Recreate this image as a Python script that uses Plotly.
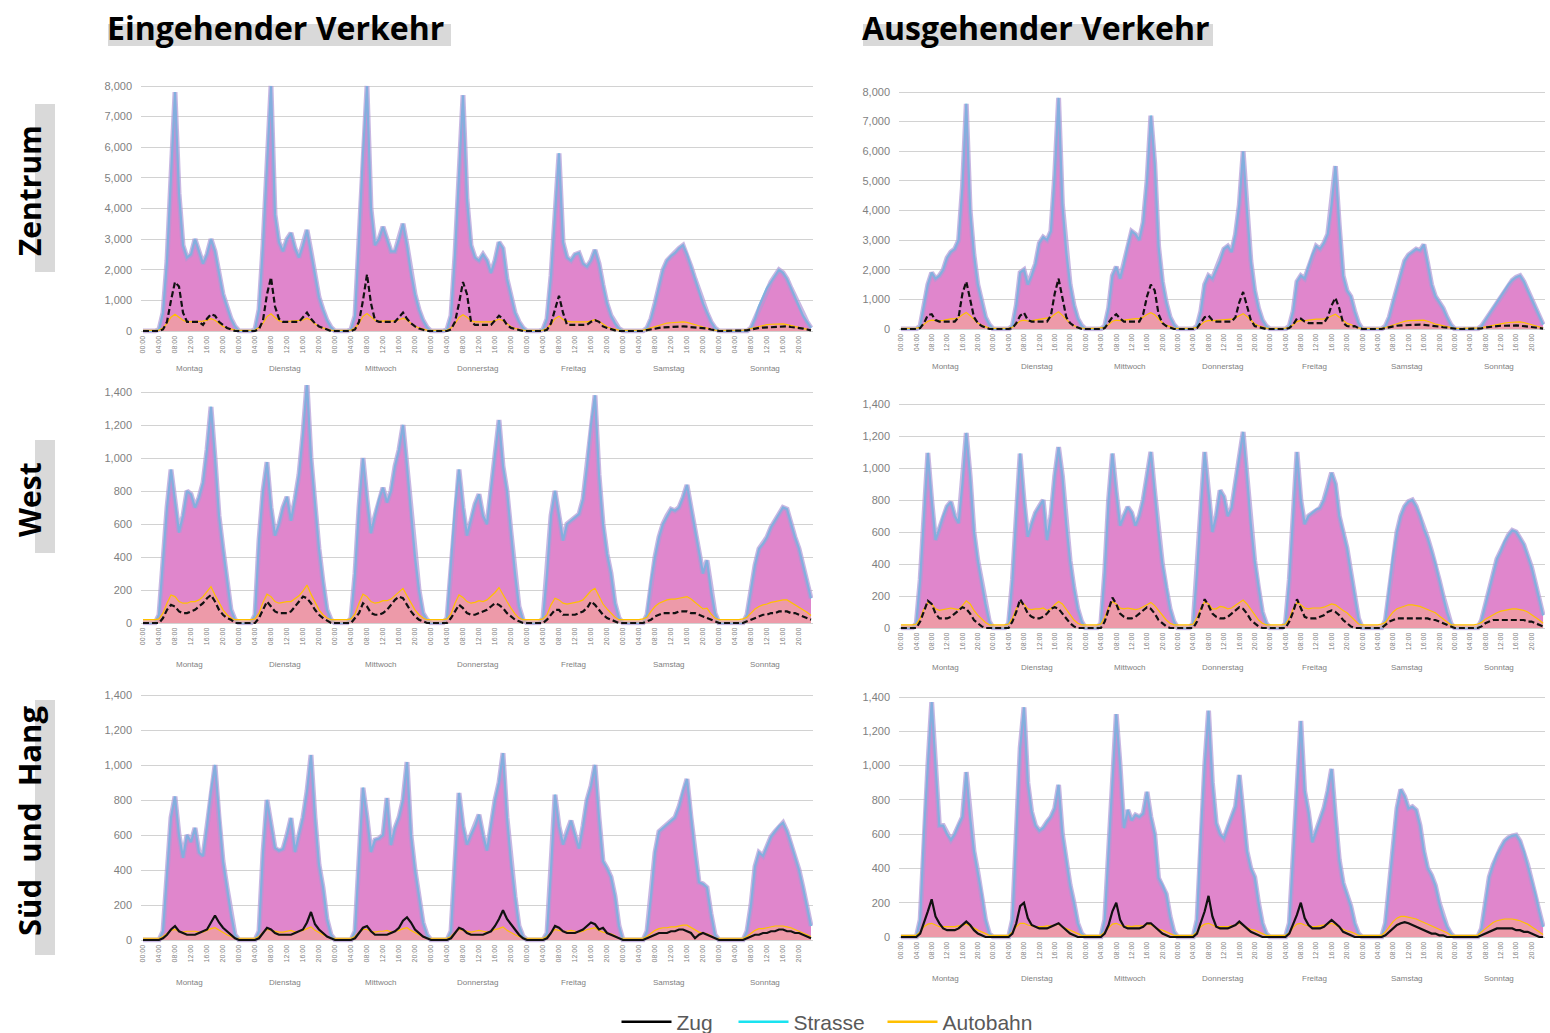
import plotly.graph_objects as go

W, H = 1550, 1033

DAYS = ["Montag", "Dienstag", "Mittwoch", "Donnerstag", "Freitag", "Samstag", "Sonntag"]
HOUR_LABELS = [f"{h:02d}:00" for h in range(24)]

# ---------------- Zentrum, eingehend ----------------
ZE_EIN_STRASSE = [
    0, 0, 0, 0, 50, 600, 2300, 5200, 7800, 4500, 2800, 2400, 2500, 3000, 2600, 2200, 2500, 3000, 2600, 1900, 1200, 800, 400, 150,
    0, 0, 0, 0, 50, 700, 2800, 5500, 8000, 3800, 2900, 2600, 3000, 3200, 2700, 2400, 2800, 3300, 2600, 1800, 1100, 700, 350, 120,
    0, 0, 0, 0, 50, 500, 3000, 5800, 8000, 4000, 2800, 3000, 3400, 3000, 2600, 2600, 3000, 3500, 2800, 1900, 1200, 700, 350, 120,
    0, 0, 0, 0, 50, 500, 2500, 5000, 7700, 4300, 2800, 2400, 2300, 2500, 2300, 1900, 2300, 2900, 2700, 1700, 1100, 600, 300, 100,
    0, 0, 0, 0, 50, 400, 1800, 3800, 5800, 2900, 2400, 2300, 2500, 2550, 2200, 2100, 2300, 2650, 2200, 1500, 900, 500, 250, 80,
    0, 0, 0, 0, 0, 0, 100, 400, 900, 1500, 2000, 2300, 2450, 2550, 2700, 2800, 2500, 2100, 1700, 1300, 900, 600, 300, 100,
    0, 0, 0, 0, 0, 0, 0, 0, 100, 400, 800, 1100, 1400, 1600, 1800, 2000, 1900, 1700, 1400, 1100, 800, 500, 300, 100,
]
ZE_EIN_ZUG = [
    0, 0, 0, 0, 0, 50, 300, 1000, 1600, 1450, 600, 300, 300, 300, 300, 200, 400, 550, 500, 300, 200, 100, 50, 0,
    0, 0, 0, 0, 0, 60, 350, 1200, 1750, 800, 400, 300, 300, 300, 300, 300, 450, 600, 400, 250, 150, 100, 50, 0,
    0, 0, 0, 0, 0, 50, 300, 1000, 1850, 900, 350, 300, 300, 300, 300, 300, 450, 600, 400, 250, 150, 80, 40, 0,
    0, 0, 0, 0, 0, 50, 300, 900, 1600, 1200, 300, 200, 200, 200, 200, 200, 350, 500, 400, 200, 100, 60, 30, 0,
    0, 0, 0, 0, 0, 40, 250, 700, 1150, 600, 200, 200, 200, 200, 200, 200, 300, 350, 300, 150, 100, 50, 20, 0,
    0, 0, 0, 0, 0, 0, 30, 60, 80, 100, 120, 130, 120, 130, 140, 150, 140, 130, 120, 110, 100, 80, 50, 20,
    0, 0, 0, 0, 0, 0, 0, 20, 50, 80, 100, 110, 120, 120, 130, 140, 140, 150, 130, 120, 100, 80, 50, 20,
]
ZE_EIN_AUTOBAHN = [
    20, 20, 20, 20, 30, 100, 250, 450, 550, 450, 350, 300, 300, 320, 320, 320, 350, 400, 350, 250, 150, 100, 60, 30,
    20, 20, 20, 20, 30, 110, 260, 470, 560, 440, 340, 300, 310, 330, 320, 330, 360, 420, 350, 240, 150, 100, 60, 30,
    20, 20, 20, 20, 30, 100, 260, 480, 570, 460, 350, 320, 330, 330, 320, 330, 360, 420, 360, 250, 160, 100, 60, 30,
    20, 20, 20, 20, 30, 100, 240, 440, 530, 450, 340, 300, 300, 310, 300, 300, 340, 390, 340, 230, 140, 90, 50, 30,
    20, 20, 20, 20, 30, 90, 220, 400, 480, 380, 320, 300, 300, 310, 300, 300, 330, 370, 320, 220, 140, 90, 50, 30,
    20, 20, 20, 20, 20, 30, 60, 100, 150, 200, 240, 260, 270, 280, 290, 300, 280, 250, 210, 170, 130, 90, 50, 30,
    20, 20, 20, 20, 20, 20, 30, 50, 80, 120, 160, 190, 210, 220, 230, 240, 230, 210, 180, 150, 110, 80, 50, 30,
]

# ---------------- Zentrum, ausgehend ----------------
ZE_AUS_STRASSE = [
    0, 0, 0, 0, 0, 100, 800, 1500, 1900, 1700, 1800, 2000, 2400, 2600, 2700, 3000, 4800, 7600, 4000, 2500, 1500, 900, 400, 150,
    0, 0, 0, 0, 0, 100, 800, 1900, 2000, 1500, 1800, 2200, 2900, 3100, 3000, 3300, 5200, 7800, 4200, 2600, 1500, 800, 350, 120,
    0, 0, 0, 0, 0, 100, 700, 1800, 2100, 1700, 2200, 2800, 3300, 3200, 3000, 3600, 5000, 7200, 5600, 2800, 1600, 900, 400, 150,
    0, 0, 0, 0, 0, 100, 600, 1500, 1800, 1700, 2000, 2300, 2700, 2800, 2600, 3200, 4200, 6000, 4000, 2300, 1300, 700, 300, 100,
    0, 0, 0, 0, 0, 100, 600, 1600, 1800, 1700, 2100, 2500, 2800, 2700, 2900, 3200, 4200, 5500, 3500, 1800, 1300, 1100, 600, 200,
    0, 0, 0, 0, 0, 0, 100, 400, 900, 1400, 1900, 2300, 2500, 2600, 2700, 2650, 2850, 2200, 1500, 1100, 900, 700, 400, 150,
    0, 0, 0, 0, 0, 0, 0, 100, 300, 500, 700, 900, 1100, 1300, 1500, 1650, 1750, 1800, 1600, 1300, 1000, 700, 400, 150,
]
ZE_AUS_ZUG = [
    0, 0, 0, 0, 0, 30, 200, 470, 500, 300, 250, 250, 250, 250, 250, 400, 1200, 1600, 1000, 400, 200, 100, 50, 0,
    0, 0, 0, 0, 0, 30, 200, 450, 550, 300, 250, 250, 250, 250, 250, 450, 1200, 1700, 1000, 400, 200, 100, 50, 0,
    0, 0, 0, 0, 0, 30, 200, 400, 500, 350, 250, 250, 250, 250, 250, 500, 1100, 1500, 1300, 500, 200, 100, 50, 0,
    0, 0, 0, 0, 0, 30, 200, 400, 450, 300, 250, 250, 250, 250, 250, 400, 900, 1250, 800, 300, 100, 60, 30, 0,
    0, 0, 0, 0, 0, 30, 150, 350, 350, 250, 200, 200, 200, 200, 200, 400, 800, 1050, 700, 200, 100, 80, 100, 30,
    0, 0, 0, 0, 0, 0, 30, 60, 90, 110, 120, 130, 140, 140, 150, 150, 140, 130, 120, 100, 80, 60, 40, 20,
    0, 0, 0, 0, 0, 0, 0, 20, 50, 70, 90, 100, 110, 110, 120, 120, 120, 110, 100, 90, 70, 50, 30, 10,
]
ZE_AUS_AUTOBAHN = [
    20, 20, 20, 20, 30, 60, 150, 260, 300, 280, 280, 290, 320, 340, 350, 380, 480, 560, 450, 320, 200, 130, 70, 30,
    20, 20, 20, 20, 30, 60, 150, 270, 300, 270, 280, 300, 330, 350, 350, 390, 500, 580, 460, 320, 200, 120, 60, 30,
    20, 20, 20, 20, 30, 60, 150, 260, 300, 280, 300, 320, 340, 350, 350, 400, 490, 550, 480, 330, 210, 130, 70, 30,
    20, 20, 20, 20, 30, 60, 140, 250, 290, 280, 290, 300, 320, 330, 330, 380, 450, 520, 420, 300, 180, 110, 60, 30,
    20, 20, 20, 20, 30, 60, 140, 250, 290, 280, 300, 310, 330, 330, 340, 380, 450, 500, 400, 280, 190, 150, 90, 40,
    20, 20, 20, 20, 20, 30, 50, 90, 140, 190, 230, 260, 280, 290, 300, 300, 300, 260, 210, 170, 140, 110, 70, 30,
    20, 20, 20, 20, 20, 20, 30, 40, 70, 100, 130, 160, 180, 200, 220, 230, 240, 240, 220, 190, 150, 110, 70, 30,
]

# ---------------- West, eingehend ----------------
WEST_EIN_STRASSE = [
    0, 0, 0, 0, 50, 400, 700, 930, 750, 550, 650, 800, 780, 700, 760, 850, 1050, 1310, 1000, 650, 450, 250, 80, 20,
    0, 0, 0, 0, 50, 500, 800, 975, 700, 530, 600, 700, 765, 620, 750, 900, 1150, 1455, 1000, 700, 450, 250, 80, 20,
    0, 0, 0, 0, 30, 300, 700, 1000, 750, 545, 650, 750, 820, 730, 800, 950, 1050, 1200, 950, 650, 400, 200, 60, 20,
    0, 0, 0, 0, 30, 350, 700, 930, 700, 530, 620, 720, 780, 650, 600, 800, 1000, 1230, 950, 800, 550, 300, 100, 20,
    0, 0, 0, 0, 30, 300, 650, 800, 650, 500, 600, 620, 640, 660, 750, 950, 1200, 1380, 900, 600, 420, 300, 120, 30,
    0, 0, 0, 0, 0, 0, 50, 250, 400, 520, 600, 650, 690, 680, 700, 760, 836, 700, 560, 420, 300, 380, 200, 60,
    0, 0, 0, 0, 0, 0, 0, 50, 200, 350, 450, 480, 520, 580, 620, 660, 700, 690, 600, 520, 450, 350, 250, 150,
]
WEST_EIN_ZUG = [
    0, 0, 0, 0, 0, 30, 80, 110, 100, 70, 60, 60, 70, 80, 100, 120, 150, 170, 130, 80, 50, 30, 20, 0,
    0, 0, 0, 0, 0, 30, 80, 130, 100, 70, 60, 60, 60, 70, 100, 130, 160, 150, 120, 80, 50, 30, 15, 0,
    0, 0, 0, 0, 0, 30, 60, 120, 100, 60, 50, 50, 60, 80, 110, 140, 160, 150, 110, 70, 40, 20, 10, 0,
    0, 0, 0, 0, 0, 30, 70, 110, 90, 60, 50, 50, 60, 70, 80, 100, 120, 110, 90, 60, 40, 20, 10, 0,
    0, 0, 0, 0, 0, 20, 50, 80, 80, 50, 50, 50, 50, 60, 70, 90, 130, 110, 80, 50, 30, 20, 10, 0,
    0, 0, 0, 0, 0, 0, 10, 20, 40, 50, 60, 60, 60, 60, 70, 70, 70, 60, 60, 50, 40, 30, 20, 10,
    0, 0, 0, 0, 0, 0, 0, 10, 20, 30, 40, 50, 50, 60, 60, 70, 70, 70, 60, 60, 50, 40, 30, 20,
]
WEST_EIN_AUTOBAHN = [
    20, 20, 20, 20, 25, 60, 120, 170, 160, 130, 120, 120, 130, 130, 140, 160, 190, 220, 170, 120, 80, 50, 30, 20,
    20, 20, 20, 20, 25, 60, 125, 175, 160, 130, 120, 125, 130, 130, 145, 165, 195, 230, 175, 125, 80, 50, 30, 20,
    20, 20, 20, 20, 25, 55, 120, 175, 160, 130, 120, 125, 135, 135, 145, 165, 190, 210, 165, 120, 80, 50, 30, 20,
    20, 20, 20, 20, 25, 55, 120, 170, 155, 130, 120, 125, 135, 130, 140, 160, 185, 215, 170, 130, 90, 55, 30, 20,
    20, 20, 20, 20, 25, 50, 110, 150, 140, 120, 115, 120, 125, 130, 140, 165, 195, 210, 160, 115, 85, 60, 35, 20,
    20, 20, 20, 20, 20, 25, 35, 70, 100, 120, 130, 140, 145, 145, 150, 155, 160, 145, 125, 105, 85, 90, 55, 30,
    20, 20, 20, 20, 20, 20, 25, 35, 60, 85, 100, 110, 115, 125, 130, 135, 140, 140, 125, 115, 100, 85, 65, 45,
]

# ---------------- West, ausgehend ----------------
WEST_AUS_STRASSE = [
    0, 0, 0, 0, 30, 300, 700, 1094, 800, 550, 620, 700, 760, 788, 700, 656, 900, 1219, 950, 600, 420, 280, 150, 40,
    0, 0, 0, 0, 30, 300, 700, 1090, 800, 570, 650, 720, 760, 800, 550, 700, 950, 1130, 950, 650, 420, 250, 120, 40,
    0, 0, 0, 0, 30, 350, 800, 1090, 850, 640, 700, 756, 720, 640, 700, 800, 950, 1100, 850, 600, 400, 250, 120, 40,
    0, 0, 0, 0, 30, 350, 750, 1100, 850, 600, 700, 860, 820, 700, 750, 900, 1050, 1225, 950, 650, 420, 250, 100, 30,
    0, 0, 0, 0, 30, 300, 700, 1100, 800, 650, 700, 720, 740, 750, 800, 880, 970, 900, 700, 600, 500, 350, 200, 60,
    0, 0, 0, 0, 0, 0, 50, 250, 450, 600, 700, 760, 790, 800, 760, 700, 620, 560, 480, 400, 300, 200, 100, 30,
    0, 0, 0, 0, 0, 0, 0, 50, 150, 250, 350, 430, 480, 540, 580, 610, 600, 560, 520, 450, 380, 280, 180, 80,
]
WEST_AUS_ZUG = [
    0, 0, 0, 0, 0, 40, 100, 170, 150, 90, 60, 60, 60, 70, 90, 110, 130, 120, 90, 50, 30, 10, 0, 0,
    0, 0, 0, 0, 0, 40, 100, 180, 140, 90, 70, 60, 60, 70, 90, 120, 130, 120, 90, 60, 30, 10, 0, 0,
    0, 0, 0, 0, 0, 40, 120, 190, 150, 90, 70, 60, 60, 70, 90, 110, 130, 120, 90, 50, 30, 10, 0, 0,
    0, 0, 0, 0, 0, 40, 110, 180, 140, 90, 70, 60, 60, 70, 90, 110, 130, 120, 90, 50, 30, 10, 0, 0,
    0, 0, 0, 0, 0, 40, 100, 180, 120, 70, 60, 60, 60, 70, 80, 100, 110, 100, 80, 50, 30, 10, 0, 0,
    0, 0, 0, 0, 0, 0, 20, 40, 50, 60, 60, 60, 60, 60, 60, 60, 60, 60, 50, 50, 40, 30, 20, 10,
    0, 0, 0, 0, 0, 0, 0, 10, 30, 40, 50, 50, 50, 50, 50, 50, 50, 50, 50, 40, 40, 30, 20, 10,
]
WEST_AUS_AUTOBAHN = [
    20, 20, 20, 20, 25, 60, 120, 160, 150, 120, 110, 115, 120, 125, 120, 115, 140, 170, 150, 110, 80, 55, 35, 20,
    20, 20, 20, 20, 25, 60, 120, 160, 150, 120, 115, 120, 120, 125, 110, 120, 145, 165, 150, 115, 80, 50, 30, 20,
    20, 20, 20, 20, 25, 65, 130, 165, 150, 125, 120, 125, 120, 115, 120, 130, 145, 160, 140, 110, 80, 50, 30, 20,
    20, 20, 20, 20, 25, 65, 125, 165, 150, 120, 120, 135, 130, 120, 125, 140, 155, 175, 150, 115, 80, 50, 30, 20,
    20, 20, 20, 20, 25, 60, 120, 160, 145, 125, 120, 125, 125, 125, 130, 140, 150, 145, 125, 110, 95, 70, 45, 25,
    20, 20, 20, 20, 20, 25, 35, 70, 100, 120, 130, 140, 145, 145, 140, 135, 125, 115, 105, 95, 75, 55, 35, 20,
    20, 20, 20, 20, 20, 20, 25, 35, 55, 70, 85, 95, 105, 110, 115, 120, 120, 115, 110, 100, 85, 70, 50, 30,
]

# ---------------- Süd und Hang, eingehend ----------------
SUED_EIN_STRASSE = [
    0, 0, 0, 0, 0, 50, 400, 700, 820, 600, 470, 600, 560, 640, 500, 480, 650, 850, 1000, 700, 450, 300, 150, 30,
    0, 0, 0, 0, 0, 50, 500, 800, 650, 526, 510, 520, 600, 697, 503, 600, 700, 850, 1057, 700, 430, 300, 120, 30,
    0, 0, 0, 0, 0, 50, 450, 870, 700, 503, 572, 580, 600, 811, 543, 640, 700, 800, 1017, 600, 400, 250, 100, 30,
    0, 0, 0, 0, 0, 50, 450, 840, 650, 545, 600, 650, 716, 600, 511, 650, 800, 900, 1068, 700, 450, 250, 80, 20,
    0, 0, 0, 0, 0, 40, 400, 830, 650, 545, 620, 682, 600, 523, 650, 800, 880, 1000, 700, 450, 410, 360, 250, 80,
    0, 0, 0, 0, 0, 0, 50, 250, 500, 620, 640, 660, 680, 700, 760, 850, 920, 700, 500, 330, 320, 300, 150, 30,
    0, 0, 0, 0, 0, 0, 0, 50, 200, 420, 500, 480, 540, 590, 620, 650, 670, 620, 550, 480, 400, 300, 180, 80,
]
SUED_EIN_ZUG = [
    0, 0, 0, 0, 0, 10, 30, 60, 80, 50, 40, 30, 30, 30, 40, 50, 60, 100, 140, 100, 70, 50, 30, 10,
    0, 0, 0, 0, 0, 10, 40, 70, 60, 40, 30, 30, 30, 30, 40, 50, 60, 100, 160, 90, 60, 40, 20, 10,
    0, 0, 0, 0, 0, 10, 40, 70, 80, 50, 30, 30, 30, 30, 40, 50, 70, 110, 130, 100, 60, 40, 20, 10,
    0, 0, 0, 0, 0, 10, 40, 70, 60, 40, 30, 30, 30, 30, 40, 50, 80, 120, 170, 120, 90, 60, 30, 10,
    0, 0, 0, 0, 0, 10, 40, 80, 70, 50, 40, 40, 40, 50, 60, 80, 100, 90, 60, 70, 40, 30, 20, 10,
    0, 0, 0, 0, 0, 0, 10, 20, 30, 40, 40, 40, 50, 50, 60, 60, 50, 40, 10, 30, 40, 30, 20, 10,
    0, 0, 0, 0, 0, 0, 0, 10, 20, 30, 30, 40, 40, 50, 50, 60, 60, 50, 50, 40, 40, 30, 20, 10,
]
SUED_EIN_AUTOBAHN = [
    10, 10, 10, 10, 10, 20, 40, 55, 60, 50, 45, 50, 50, 50, 45, 45, 55, 65, 70, 55, 40, 30, 20, 10,
    10, 10, 10, 10, 10, 20, 45, 60, 55, 50, 45, 45, 50, 55, 45, 50, 55, 65, 75, 55, 40, 30, 20, 10,
    10, 10, 10, 10, 10, 20, 45, 60, 60, 50, 45, 50, 50, 55, 45, 50, 55, 65, 70, 55, 40, 30, 20, 10,
    10, 10, 10, 10, 10, 20, 45, 60, 55, 50, 45, 50, 55, 50, 45, 50, 60, 65, 75, 55, 40, 30, 20, 10,
    10, 10, 10, 10, 10, 20, 40, 60, 55, 50, 50, 55, 50, 45, 50, 60, 65, 70, 55, 45, 40, 35, 25, 10,
    10, 10, 10, 10, 10, 10, 20, 40, 55, 65, 70, 70, 75, 75, 80, 85, 85, 70, 55, 45, 40, 35, 25, 10,
    10, 10, 10, 10, 10, 10, 10, 20, 40, 55, 65, 65, 70, 75, 80, 80, 80, 75, 70, 60, 50, 40, 30, 20,
]

# ---------------- Süd und Hang, ausgehend ----------------
SUED_AUS_STRASSE = [
    0, 0, 0, 0, 0, 100, 600, 1000, 1370, 1000, 650, 650, 600, 566, 600, 653, 700, 962, 700, 500, 380, 250, 100, 20,
    0, 0, 0, 0, 0, 100, 600, 1100, 1340, 900, 730, 650, 620, 636, 671, 700, 750, 887, 600, 450, 303, 200, 80, 20,
    0, 0, 0, 0, 0, 100, 500, 900, 1300, 1000, 636, 741, 680, 712, 700, 720, 846, 700, 600, 344, 303, 250, 120, 30,
    0, 0, 0, 0, 0, 100, 600, 1000, 1320, 900, 663, 600, 576, 640, 700, 760, 945, 700, 500, 400, 350, 200, 80, 20,
    0, 0, 0, 0, 0, 80, 500, 900, 1260, 850, 728, 554, 620, 685, 750, 850, 980, 700, 450, 315, 250, 180, 80, 20,
    0, 0, 0, 0, 0, 0, 80, 300, 550, 750, 860, 820, 750, 760, 740, 650, 500, 400, 360, 300, 200, 120, 60, 20,
    0, 0, 0, 0, 0, 0, 0, 50, 200, 350, 420, 480, 520, 560, 580, 590, 595, 560, 500, 420, 330, 250, 150, 60,
]
SUED_AUS_ZUG = [
    0, 0, 0, 0, 0, 20, 80, 150, 220, 120, 80, 50, 40, 40, 40, 50, 70, 90, 70, 40, 20, 10, 0, 0,
    0, 0, 0, 0, 0, 20, 80, 180, 200, 110, 70, 60, 50, 50, 50, 60, 70, 80, 60, 40, 20, 10, 0, 0,
    0, 0, 0, 0, 0, 20, 70, 150, 200, 100, 60, 50, 50, 50, 50, 60, 80, 80, 60, 40, 20, 10, 0, 0,
    0, 0, 0, 0, 0, 20, 80, 150, 240, 120, 60, 50, 50, 50, 60, 70, 90, 70, 50, 30, 20, 10, 0, 0,
    0, 0, 0, 0, 0, 20, 70, 130, 200, 110, 70, 50, 50, 50, 60, 80, 100, 80, 60, 30, 20, 10, 0, 0,
    0, 0, 0, 0, 0, 0, 10, 30, 50, 70, 80, 87, 80, 70, 60, 50, 40, 30, 20, 20, 10, 10, 0, 0,
    0, 0, 0, 0, 0, 0, 0, 10, 20, 30, 40, 50, 50, 50, 50, 50, 40, 40, 30, 30, 20, 10, 0, 0,
]
SUED_AUS_AUTOBAHN = [
    10, 10, 10, 10, 10, 30, 60, 75, 80, 70, 60, 60, 60, 60, 60, 65, 70, 75, 65, 50, 40, 30, 20, 10,
    10, 10, 10, 10, 10, 30, 60, 80, 80, 70, 65, 60, 60, 60, 65, 65, 70, 75, 60, 50, 40, 30, 20, 10,
    10, 10, 10, 10, 10, 30, 55, 75, 80, 70, 60, 65, 60, 65, 65, 65, 75, 70, 60, 45, 40, 30, 20, 10,
    10, 10, 10, 10, 10, 30, 60, 75, 80, 70, 60, 60, 60, 60, 65, 70, 80, 70, 55, 45, 40, 30, 20, 10,
    10, 10, 10, 10, 10, 25, 55, 75, 80, 70, 65, 60, 60, 65, 70, 75, 80, 70, 55, 45, 35, 30, 20, 10,
    10, 10, 10, 10, 10, 10, 30, 60, 90, 110, 120, 120, 115, 110, 105, 95, 85, 75, 65, 55, 45, 35, 25, 10,
    10, 10, 10, 10, 10, 10, 10, 30, 50, 70, 85, 95, 100, 105, 105, 105, 100, 95, 85, 75, 60, 45, 30, 15,
]

# Panel layout: series + pixel geometry (left/right, zero line, top gridline, top value, tick step, day-label row)
PANELS = [
    dict(s=ZE_EIN_STRASSE, z=ZE_EIN_ZUG, a=ZE_EIN_AUTOBAHN, xl=141, xr=813, y0=331, yt=86, vt=8000, dt=1000, dy=368, dash="6px,3px"),
    dict(s=ZE_AUS_STRASSE, z=ZE_AUS_ZUG, a=ZE_AUS_AUTOBAHN, xl=899, xr=1545, y0=329, yt=92, vt=8000, dt=1000, dy=367, dash="6px,3px"),
    dict(s=WEST_EIN_STRASSE, z=WEST_EIN_ZUG, a=WEST_EIN_AUTOBAHN, xl=141, xr=813, y0=623, yt=392, vt=1400, dt=200, dy=664, dash="6px,3px"),
    dict(s=WEST_AUS_STRASSE, z=WEST_AUS_ZUG, a=WEST_AUS_AUTOBAHN, xl=899, xr=1545, y0=628, yt=404, vt=1400, dt=200, dy=667, dash="6px,3px"),
    dict(s=SUED_EIN_STRASSE, z=SUED_EIN_ZUG, a=SUED_EIN_AUTOBAHN, xl=141, xr=813, y0=940, yt=695, vt=1400, dt=200, dy=982, dash="solid"),
    dict(s=SUED_AUS_STRASSE, z=SUED_AUS_ZUG, a=SUED_AUS_AUTOBAHN, xl=899, xr=1545, y0=937, yt=697, vt=1400, dt=200, dy=978, dash="solid"),
]

PINK = "rgb(224,134,204)"
LAVENDER = "rgba(176,152,214,0.7)"
CYAN = "#19e3f0"
ORANGE = "#ffc000"
PEACH = "rgba(248,172,140,0.55)"
GREY_TXT = "#7f7f7f"


def fx(px):
    return px / W


def fy(px):
    return 1 - px / H


fig = go.Figure()
layout = dict(
    width=W, height=H,
    margin=dict(l=0, r=0, t=0, b=0, autoexpand=False),
    paper_bgcolor="white", plot_bgcolor="white",
    showlegend=True,
    annotations=[], shapes=[],
)

hours = list(range(168))
tickvals = [d * 24 + h for d in range(7) for h in range(0, 24, 4)]
ticktext = [HOUR_LABELS[h] for d in range(7) for h in range(0, 24, 4)]

for i, p in enumerate(PANELS, start=1):
    xa = "x" if i == 1 else f"x{i}"
    ya = "y" if i == 1 else f"y{i}"
    k = (p["y0"] - p["yt"]) / p["vt"]
    lo, hi = -0.01 * p["vt"], 1.03 * p["vt"]
    bottom_px = p["y0"] - lo * k
    top_px = p["y0"] - hi * k

    layout["xaxis" if i == 1 else f"xaxis{i}"] = dict(
        domain=[fx(p["xl"]), fx(p["xr"])], range=[-0.5, 167.5], anchor=ya,
        tickmode="array", tickvals=tickvals, ticktext=ticktext, tickangle=-90,
        tickfont=dict(size=7, color=GREY_TXT, family="Liberation Sans"),
        showgrid=False, zeroline=False, showline=False, ticks="", automargin=False,
    )
    layout["yaxis" if i == 1 else f"yaxis{i}"] = dict(
        domain=[fy(bottom_px), fy(top_px)], range=[lo, hi], anchor=xa,
        tickmode="linear", tick0=0, dtick=p["dt"], tickformat=",",
        tickfont=dict(size=11, color=GREY_TXT, family="Liberation Sans"),
        showgrid=True, gridcolor="#d2d2d2", gridwidth=1, zeroline=False,
        showline=False, ticks="", ticklabelstandoff=8, automargin=False,
    )

    # Strasse: pink body with a cyan edge and a soft lavender rim
    fig.add_trace(go.Scatter(x=hours, y=p["s"], xaxis=xa, yaxis=ya, mode="lines",
                             fill="tozeroy", fillcolor=PINK,
                             line=dict(color=CYAN, width=2.2, shape="linear"),
                             showlegend=False, hoverinfo="skip"))
    fig.add_trace(go.Scatter(x=hours, y=p["s"], xaxis=xa, yaxis=ya, mode="lines",
                             line=dict(color=LAVENDER, width=5),
                             showlegend=False, hoverinfo="skip"))
    # Autobahn
    fig.add_trace(go.Scatter(x=hours, y=p["a"], xaxis=xa, yaxis=ya, mode="lines",
                             fill="tozeroy", fillcolor=PEACH,
                             line=dict(color=ORANGE, width=1.2),
                             showlegend=False, hoverinfo="skip"))
    # Zug
    fig.add_trace(go.Scatter(x=hours, y=p["z"], xaxis=xa, yaxis=ya, mode="lines",
                             line=dict(color="#111111", width=2.2, dash=p["dash"]),
                             showlegend=False, hoverinfo="skip"))

    for d, name in enumerate(DAYS):
        layout["annotations"].append(dict(
            x=d * 24 + 11.5, xref=xa, y=fy(p["dy"]), yref="paper",
            text=name, showarrow=False, xanchor="center", yanchor="middle",
            font=dict(size=8, color=GREY_TXT, family="Liberation Sans"),
        ))

# Legend entries
for name, color, lw in [("Zug", "black", 52), ("Strasse", CYAN, 84), ("Autobahn", ORANGE, 96)]:
    fig.add_trace(go.Scatter(x=[None], y=[None], mode="lines", name=name, legendwidth=lw,
                             line=dict(color=color, width=2.5)))

layout["legend"] = dict(
    orientation="h", x=fx(830), xanchor="center", y=fy(1022), yanchor="middle",
    font=dict(size=21, color="#595959", family="Liberation Sans"),
    itemwidth=50, bgcolor="rgba(0,0,0,0)", tracegroupgap=0,
)

# Column titles with grey highlight bars
for text, x0, x1 in [("Eingehender Verkehr", 108, 451), ("Ausgehender Verkehr", 863, 1213)]:
    layout["shapes"].append(dict(type="rect", xref="paper", yref="paper",
                                 x0=fx(x0), x1=fx(x1), y0=fy(46), y1=fy(24),
                                 fillcolor="#d9d9d9", line=dict(width=0), layer="below"))
    layout["annotations"].append(dict(
        x=fx(x0 - 3), y=fy(27), xref="paper", yref="paper", xanchor="left", yanchor="middle",
        text=f"<b>{text}</b>", showarrow=False,
        font=dict(size=32, color="black", family="Open Sans"),
    ))

# Row labels, rotated, with grey highlight bars
NB = "\u00a0"
for text, yc, y_top, y_bot, size in [("Zentrum", 191, 104, 272, 30),
                                     ("West", 500, 440, 553, 30),
                                     (f"Süd{NB}{NB}und{NB}{NB}Hang", 821, 700, 955, 31)]:
    layout["shapes"].append(dict(type="rect", xref="paper", yref="paper",
                                 x0=fx(35), x1=fx(55), y0=fy(y_bot), y1=fy(y_top),
                                 fillcolor="#d9d9d9", line=dict(width=0), layer="below"))
    layout["annotations"].append(dict(
        x=fx(29), y=fy(yc), xref="paper", yref="paper", xanchor="center", yanchor="middle",
        text=f"<b>{text}</b>", showarrow=False, textangle=-90,
        font=dict(size=size, color="black", family="Open Sans"),
    ))

fig.update_layout(**layout)
fig.write_html("out.html")
